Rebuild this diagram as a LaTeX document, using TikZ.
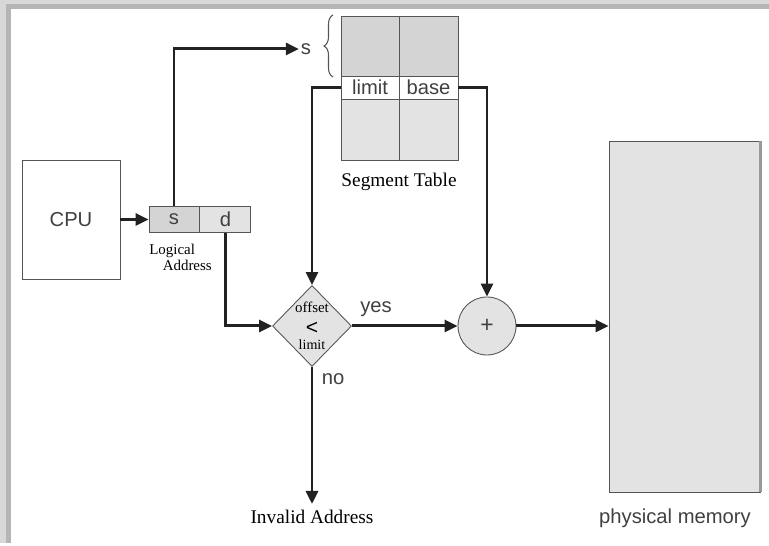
\documentclass[tikz,border=0pt]{standalone}
\usepackage{fontspec}
\setmainfont{Liberation Serif}
\setsansfont{Liberation Sans}
\usepackage{tikz}
\usetikzlibrary{arrows.meta,shapes.geometric,decorations.pathreplacing}
\definecolor{SGLine}{HTML}{222222}
\definecolor{SGEdge}{HTML}{555555}
\definecolor{SGText}{HTML}{404040}
\definecolor{SGDark}{HTML}{D4D4D4}
\definecolor{SGLight}{HTML}{E3E3E3}
\definecolor{SGFrameA}{HTML}{D8D8D8}
\definecolor{SGFrameB}{HTML}{B5B5B5}

\begin{document}
\begin{tikzpicture}[x=1cm,y=1cm,
  flow/.style={SGLine,line width=1.7pt,-{Triangle[length=0.26cm,width=0.24cm]}},
  cell/.style={draw=SGEdge,line width=.5pt,inner sep=0pt,font=\sffamily\fontsize{11.5}{12}\selectfont,text=SGText},
  sanslabel/.style={font=\sffamily\fontsize{11.5}{12}\selectfont,text=SGText},
  seriflabel/.style={font=\fontsize{11}{12}\selectfont}]
\path[use as bounding box] (0,0) rectangle (15.38,10.92);
% frame shadow
\fill[SGFrameA] (0,10.74) rectangle (15.38,10.92);
\fill[SGFrameB] (0.12,10.74) rectangle (15.38,10.84);
\fill[SGFrameA] (0,0.06) rectangle (0.12,10.92);
\fill[SGFrameB] (0.12,0.06) rectangle (0.22,10.84);
% cpu and logical address
\node[cell,fill=white,minimum width=1.96cm,minimum height=2.38cm] (cpu) at (1.42,6.53) {CPU};
\node[cell,fill=SGDark,minimum width=1.00cm,minimum height=0.52cm] (sfld) at (3.48,6.53) {s};
\node[cell,fill=SGLight,minimum width=1.02cm,minimum height=0.52cm,anchor=west] (dfld) at (sfld.east) {d};
\node[anchor=north west,align=left,inner sep=0pt,font=\fontsize{8.5}{9.5}\selectfont] (logaddr) at (2.98,6.05) {Logical\\\hspace*{0.9em}Address};
% segment table
\node[cell,fill=SGDark,minimum width=1.16cm,minimum height=1.20cm] (tl) at (7.40,10.00) {};
\node[cell,fill=SGDark,minimum width=1.18cm,minimum height=1.20cm] (tr) at (8.57,10.00) {};
\node[cell,fill=white,minimum width=1.16cm,minimum height=0.46cm] (lim) at (7.40,9.17) {limit};
\node[cell,fill=white,minimum width=1.18cm,minimum height=0.46cm] (base) at (8.57,9.17) {base};
\node[cell,fill=SGLight,minimum width=1.16cm,minimum height=1.22cm] (bl) at (7.40,8.33) {};
\node[cell,fill=SGLight,minimum width=1.18cm,minimum height=1.22cm] (br) at (8.57,8.33) {};
\node[seriflabel] (segtab) at (7.98,7.28) {Segment Table};
\node[sanslabel,inner sep=1pt] (sidx) at (6.12,9.94) {s};
\draw[SGEdge,line width=.6pt,decorate,decoration={brace,amplitude=0.18cm}] (6.66,9.38) -- (6.66,10.62);
\coordinate (sturn) at (3.48,9.94);
% check and add
\node[diamond,draw=SGEdge,line width=.5pt,fill=SGLight,minimum width=1.58cm,minimum height=1.62cm,inner sep=0pt] (chk) at (6.24,4.40) {};
\node[font=\fontsize{8.5}{9}\selectfont,inner sep=0pt] (chkoff) at (6.24,4.77) {offset};
\node[font=\sffamily\fontsize{12}{12}\selectfont,inner sep=0pt] (chklt) at (6.24,4.36) {<};
\node[font=\fontsize{8}{9}\selectfont,inner sep=0pt] (chklim) at (6.24,4.03) {limit};
\node[circle,draw=SGEdge,line width=.5pt,fill=SGLight,minimum size=1.16cm,inner sep=0pt,font=\sffamily\fontsize{13}{13}\selectfont,text=SGText] (add) at (9.74,4.40) {+};
\node[draw=SGEdge,line width=.5pt,fill=SGLight,minimum width=3.02cm,minimum height=7.02cm] (mem) at (13.69,4.59) {};
\draw[SGEdge!60,line width=1.2pt] (mem.north east) -- (mem.south east);
\node[sanslabel] (memlbl) at (13.50,0.56) {physical memory};
\node[seriflabel] (invalid) at (6.24,0.58) {Invalid Address};
\node[sanslabel] (yes) at (7.52,4.74) {yes};
\node[sanslabel] (no) at (6.66,3.34) {no};
% connectors
\draw[flow] (cpu.east) -- (sfld.west);
\draw[flow] (sfld.north) -- (sturn) -- (sidx.west);
\draw[flow] (lim.west) -| (chk.north);
\draw[flow] (base.east) -| (add.north);
\draw[flow] (dfld.south) |- (chk.west);
\draw[flow] (chk.east) -- (add.west);
\draw[flow] (add.east) -- (mem.west |- add.east);
\draw[flow] (chk.south) -- (invalid.north);
\end{tikzpicture}
\end{document}
